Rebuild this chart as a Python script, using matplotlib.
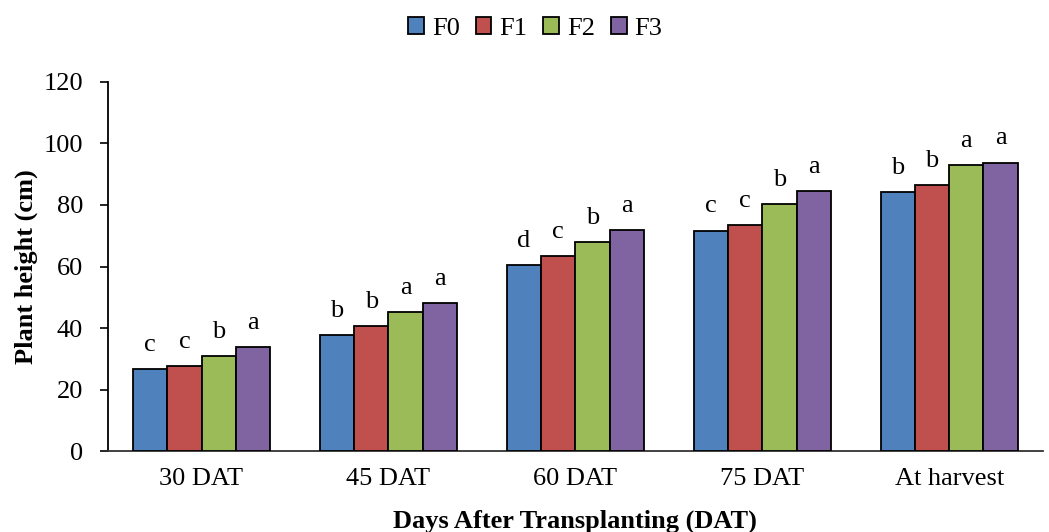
import numpy as np
import matplotlib
matplotlib.use("Agg")
import matplotlib.pyplot as plt

plt.rcParams["font.family"] = ["Liberation Serif", "DejaVu Serif"]

stages = ["30 DAT", "45 DAT", "60 DAT", "75 DAT", "At harvest"]
treatments = ["F0", "F1", "F2", "F3"]
F0 = [26.7, 37.7, 60.5, 71.7, 84.1]
F1 = [27.7, 40.6, 63.4, 73.5, 86.4]
F2 = [30.8, 45.2, 67.9, 80.4, 93.0]
F3 = [33.9, 48.0, 72.0, 84.4, 93.8]
letters_F0 = ["c", "b", "d", "c", "b"]
letters_F1 = ["c", "b", "c", "c", "b"]
letters_F2 = ["b", "a", "b", "b", "a"]
letters_F3 = ["a", "a", "a", "a", "a"]

series = [F0, F1, F2, F3]
letters = [letters_F0, letters_F1, letters_F2, letters_F3]
colors = ["#4F81BD", "#C0504D", "#9BBB59", "#8064A2"]

fig = plt.figure(figsize=(10.49, 5.32), dpi=100)
ax = fig.add_axes([0.103, 0.152, 0.891, 0.694])

x = np.arange(len(stages))
w = 0.183
for i, (vals, lab, col) in enumerate(zip(series, letters, colors)):
    pos = x + (i - 1.5) * w
    ax.bar(pos, vals, width=w, color=col, edgecolor="black", linewidth=1.3,
           label=treatments[i], zorder=3)
    for px, v, t in zip(pos, vals, lab):
        ax.annotate(t, (px, v), textcoords="offset points", xytext=(0, 13),
                    ha="center", va="baseline", fontsize=19)

ax.set_xlim(-0.5, len(stages) - 0.5)
ax.set_ylim(0, 120)
ax.set_yticks(range(0, 121, 20))
ax.set_xticks(x)
ax.set_xticklabels(stages)
ax.tick_params(axis="x", labelsize=19, length=0, pad=12)
ax.tick_params(axis="y", labelsize=19, length=6, direction="out", width=1.2, pad=12)
for s in ["top", "right"]:
    ax.spines[s].set_visible(False)
ax.spines["left"].set_linewidth(1.3)
ax.spines["bottom"].set_linewidth(1.3)
ax.spines["bottom"].set_color("#333333")

ax.set_ylabel("Plant height (cm)", fontsize=19, fontweight="bold", labelpad=4)
ax.set_xlabel("Days After Transplanting (DAT)", fontsize=19, fontweight="bold", labelpad=14)

leg = ax.legend(loc="upper center", bbox_to_anchor=(0.457, 1.24), ncol=4, frameon=False,
                fontsize=19, handlelength=0.6, handleheight=0.6, handletextpad=0.3,
                columnspacing=0.6)

fig.savefig("out.png", dpi=100)
